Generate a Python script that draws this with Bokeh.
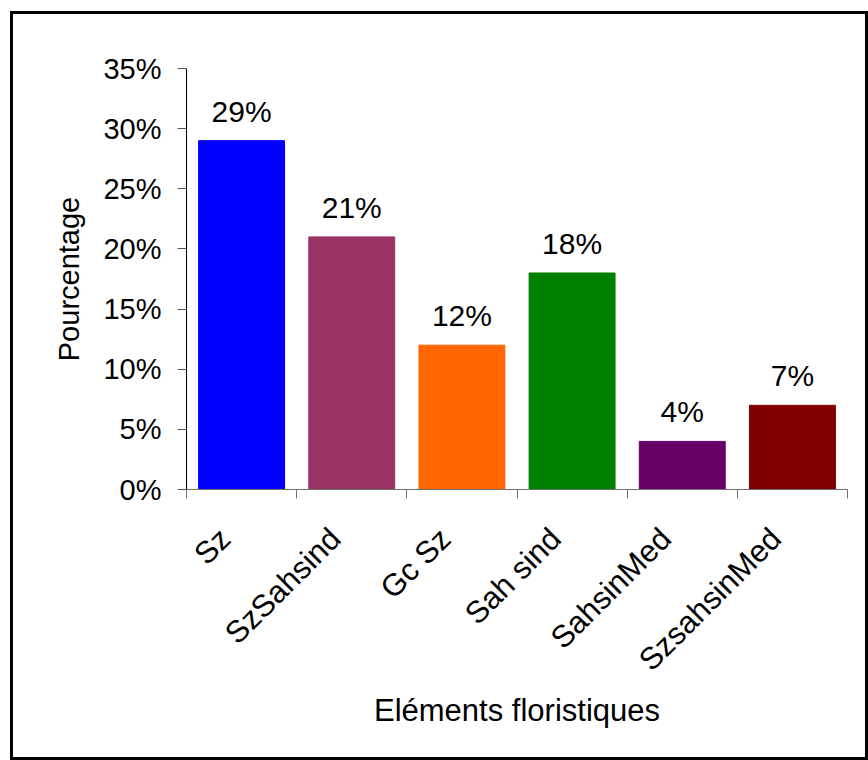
import math
from bokeh.plotting import figure
from bokeh.layouts import column
from bokeh.models import (ColumnDataSource, FixedTicker, NumeralTickFormatter,
                          Range1d, LabelSet)
from bokeh.core.properties import value
from bokeh.embed import file_html
from bokeh.resources import INLINE

categories = ["Sz", "SzSahsind", "Gc Sz", "Sah sind", "SahsinMed", "SzsahsinMed"]
values = [29, 21, 12, 18, 4, 7]
colors = ["#0000FF", "#993366", "#FF6600", "#008000", "#660066", "#800000"]
yticks = [0, 0.05, 0.10, 0.15, 0.20, 0.25, 0.30, 0.35]

FONT = "Liberation Sans"
FS = "29px"
VFS = "30px"
XFS = "31px"
LABEL_SHIFT = 0.15  # rotated category names sit slightly left of the bar centre

xpos = [i + 0.5 for i in range(len(categories))]
src = ColumnDataSource(dict(
    x=xpos,
    top=[v / 100 for v in values],
    color=colors,
    label=[f"{v}%" for v in values],
))

p = figure(width=852, height=743,
           x_range=Range1d(0, len(categories)), y_range=Range1d(0, 0.35),
           output_backend="svg", toolbar_location=None,
           min_border_left=173, min_border_top=54,
           min_border_right=18, min_border_bottom=268)
p.outline_line_color = None
p.xgrid.visible = False
p.ygrid.visible = False

p.vbar(x="x", top="top", width=0.78, color="color", source=src)

labels = LabelSet(x="x", y="top", text="label", source=src, y_offset=19,
                  text_align="center", text_baseline="alphabetic",
                  text_font=value(FONT), text_font_size=VFS, text_color="black")
p.add_layout(labels)

# y axis
p.yaxis.ticker = FixedTicker(ticks=yticks)
p.yaxis.formatter = NumeralTickFormatter(format="0%")
p.yaxis.axis_line_color = "black"
p.yaxis.major_tick_line_color = "#555555"
p.yaxis.major_tick_out = 9
p.yaxis.major_tick_in = 0
p.yaxis.minor_tick_line_color = None
p.yaxis.major_label_standoff = 16
p.yaxis.major_label_text_font = FONT
p.yaxis.major_label_text_font_size = FS
p.yaxis.major_label_text_color = "black"
p.yaxis.axis_label = "Pourcentage"
p.yaxis.axis_label_text_font = FONT
p.yaxis.axis_label_text_font_size = FS
p.yaxis.axis_label_text_font_style = "normal"
p.yaxis.axis_label_text_color = "black"
p.yaxis.axis_label_standoff = 15

# x axis: ticks at category boundaries (minor), names as rotated major labels
label_ticks = [x - LABEL_SHIFT for x in xpos]
p.xaxis.ticker = FixedTicker(ticks=label_ticks,
                             minor_ticks=list(range(len(categories) + 1)))
p.xaxis.major_label_overrides = {t: c for t, c in zip(label_ticks, categories)}
p.xaxis.axis_line_color = "#707070"
p.xaxis.major_tick_line_color = None
p.xaxis.major_tick_out = 9
p.xaxis.major_tick_in = 0
p.xaxis.minor_tick_line_color = "#707070"
p.xaxis.minor_tick_out = 9
p.xaxis.minor_tick_in = 0
p.xaxis.major_label_orientation = math.pi / 4
p.xaxis.major_label_standoff = 35
p.xaxis.major_label_text_font = FONT
p.xaxis.major_label_text_font_size = XFS
p.xaxis.major_label_text_color = "black"
p.xaxis.axis_label = "Eléments floristiques"
p.xaxis.axis_label_text_font = FONT
p.xaxis.axis_label_text_font_size = XFS
p.xaxis.axis_label_text_font_style = "normal"
p.xaxis.axis_label_text_color = "black"
p.xaxis.axis_label_standoff = 0

layout = column(p, styles={"border": "3px solid black"})
layout.margin = (11, 0, 0, 10)

open("out.html", "w").write(file_html(layout, INLINE))
